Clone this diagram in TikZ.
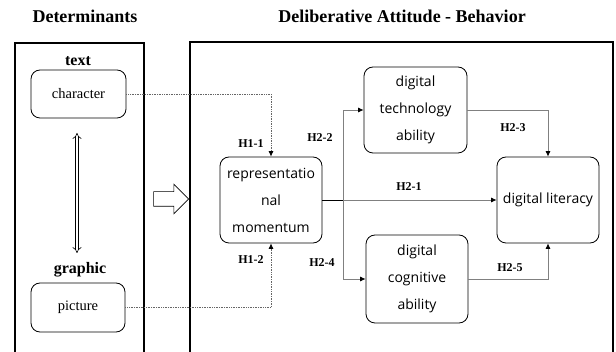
\documentclass[tikz,border=0pt]{standalone}
\usepackage{fontspec}
\setmainfont{Liberation Serif}
\setsansfont{Open Sans}
\usetikzlibrary{arrows.meta,shapes.arrows}
\tikzstyle{frame}=[line width=1.6pt]
\tikzstyle{box}=[rectangle,draw,rounded corners=9pt,fill=white,text=black,line width=0.8pt]
\tikzstyle{var}=[box,font=\sffamily\fontsize{14}{27}\selectfont,align=center,inner sep=2pt]
\tikzstyle{src}=[box,font=\fontsize{14.5}{17}\selectfont]
\tikzstyle{head}=[font=\bfseries\fontsize{18}{21}\selectfont]
\tikzstyle{grp}=[font=\bfseries\fontsize{16}{19}\selectfont]
\tikzstyle{hyp}=[font=\bfseries\fontsize{12}{14}\selectfont]
\tikzstyle{link}=[->,draw=gray,line width=0.7pt,>={Latex[black,length=5.5pt,width=5pt]}]
\tikzstyle{linkD}=[->,draw=gray!80!black,densely dotted,line width=0.7pt,>={Latex[black,length=5.5pt,width=5pt]}]
\tikzstyle{dbl}=[{Implies}-{Implies},double,double distance=2.5pt,line width=0.6pt]

\begin{document}
\begin{tikzpicture}[x=1pt,y=-1pt]
  \useasboundingbox (0,0) rectangle (616,352);
  \node[head] (T1) at (85,16) {Determinants};
  \node[head] (T2) at (402,16) {Deliberative Attitude - Behavior};
  \draw[frame] (15,356)--(15,43)--(144,43)--(144,356);
  \draw[frame] (190,356)--(190,42)--(613,42)--(613,356);

  \node[grp] (txt) at (78,61) {text};
  \node[src,minimum width=95pt,minimum height=48pt] (char) at (78.5,94) {character};
  \node[grp] (gra) at (80,270) {graphic};
  \node[src,minimum width=94pt,minimum height=49pt] (pic) at (78,307.5) {picture};
  \coordinate (up) at (77,133);
  \coordinate (dn) at (77,253);
  \draw[dbl] (up)--(dn);

  \node[single arrow,draw,line width=0.6pt,inner sep=7pt,minimum height=35pt,
        single arrow head extend=7.5pt] (go) at (167.5,199) {};

  \node[var,minimum width=102pt,minimum height=86pt] (rep) at (271,200) {representatio\\nal\\momentum};
  \node[var,minimum width=103pt,minimum height=86pt] (tech) at (415.5,110) {digital\\technology\\ability};
  \node[var,minimum width=102pt,minimum height=88pt] (cog) at (417,279) {digital\\cognitive\\ability};
  \node[var,minimum width=102pt,minimum height=86pt] (lit) at (548,200) {digital literacy};
  \coordinate (J) at (343,200);

  \draw[linkD] (char.east) -| (rep.north);
  \draw[linkD] (pic.east) -| (rep.south);
  \draw[line width=0.9pt] (rep.east)--(J);
  \draw[link] (J)--(lit.west);
  \draw[link] (J) |- (tech.west);
  \draw[link] (J) |- (cog.west);
  \draw[link] (tech.east) -| (lit.north);
  \draw[link] (cog.east) -| (lit.south);

  \node[hyp] (h11) at (251,144) {H1-1};
  \node[hyp] (h12) at (251,260) {H1-2};
  \node[hyp] (h22) at (320,138) {H2-2};
  \node[hyp] (h24) at (322,263) {H2-4};
  \node[hyp] (h21) at (409,187) {H2-1};
  \node[hyp] (h23) at (513,128) {H2-3};
  \node[hyp] (h25) at (510,268) {H2-5};
\end{tikzpicture}
\end{document}
